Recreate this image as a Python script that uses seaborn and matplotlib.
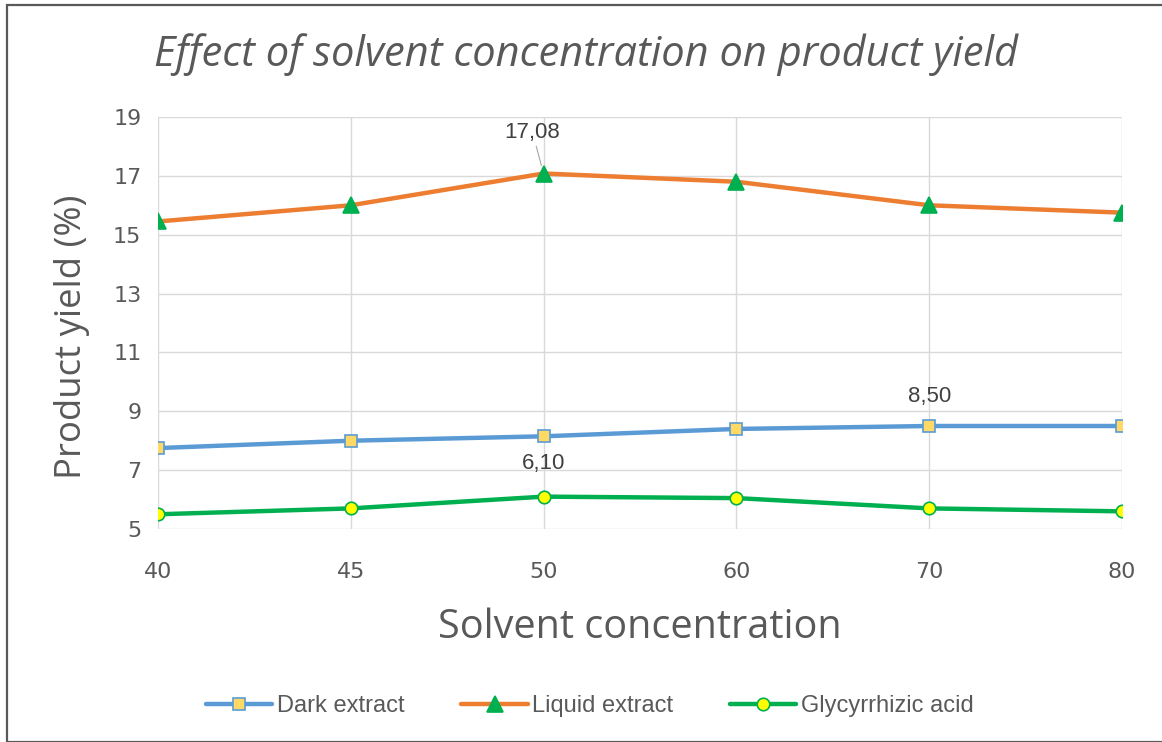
import matplotlib
matplotlib.use("Agg")
import matplotlib.pyplot as plt
import seaborn as sns
import pandas as pd
from matplotlib.patches import Rectangle

# Data
concentrations = ["40", "45", "50", "60", "70", "80"]
dark_extract = [7.75, 8.0, 8.15, 8.4, 8.50, 8.5]
liquid_extract = [15.45, 16.0, 17.08, 16.8, 16.0, 15.75]
glycyrrhizic_acid = [5.5, 5.7, 6.10, 6.05, 5.7, 5.6]
y_ticks = [5, 7, 9, 11, 13, 15, 17, 19]

series_names = ["Dark extract", "Liquid extract", "Glycyrrhizic acid"]
series_values = [dark_extract, liquid_extract, glycyrrhizic_acid]

sns.set_theme(style="white")
plt.rcParams["font.family"] = ["Open Sans", "DejaVu Sans"]

styles = {
    "Dark extract": dict(color="#5B9BD5", marker="s", mfc="#FFD966", mec="#5B9BD5", ms=9),
    "Liquid extract": dict(color="#ED7D31", marker="^", mfc="#00B050", mec="#00B050", ms=11),
    "Glycyrrhizic acid": dict(color="#00B050", marker="o", mfc="#FFFF00", mec="#00B050", ms=9),
}

rows = []
for name, vals in zip(series_names, series_values):
    for c, v in zip(concentrations, vals):
        rows.append({"conc": c, "yield": v, "series": name})
df = pd.DataFrame(rows)

fig = plt.figure(figsize=(11.62, 7.42), dpi=100)
ax = fig.add_axes([158 / 1162, 1 - 529 / 742, (1122 - 158) / 1162, (529 - 117) / 742])

for name in series_names:
    st = styles[name]
    sub = df[df["series"] == name]
    sns.lineplot(data=sub, x="conc", y="yield", ax=ax, color=st["color"], lw=3.2,
                 marker=st["marker"], markersize=st["ms"], markerfacecolor=st["mfc"],
                 markeredgecolor=st["mec"], markeredgewidth=1.2, label=name,
                 sort=False, zorder=3)

ax.set_xlim(0, len(concentrations) - 1)
ax.set_ylim(5, 19)
ax.set_yticks(y_ticks)
ax.grid(True, color="#D9D9D9", lw=1.0)
for s in ax.spines.values():
    s.set_visible(False)
ax.tick_params(axis="x", pad=24, labelsize=16, colors="#595959", length=0)
ax.tick_params(axis="y", pad=12, labelsize=16, colors="#595959", length=0)
for lab in ax.get_xticklabels() + ax.get_yticklabels():
    lab.set_fontfamily(["DejaVu Sans"])

ax.set_xlabel("Solvent concentration", fontsize=28.5, color="#595959", labelpad=18)
ax.set_ylabel("Product yield (%)", fontsize=26.3, color="#595959")
ax.yaxis.set_label_coords(-0.071, 0.466)
fig.text(586 / 1162, 1 - 55 / 742, "Effect of solvent concentration on product yield",
         ha="center", va="center", fontsize=30, style="italic", color="#595959")

def fmt(v):
    return f"{v:.2f}".replace(".", ",")

label_font = ["Liberation Sans Narrow", "Liberation Sans"]

# Data labels
i50 = concentrations.index("50")
ax.annotate(fmt(liquid_extract[i50]), xy=(i50, liquid_extract[i50]), xytext=(-8, 22),
            textcoords="offset points", ha="center", va="bottom", fontsize=16,
            color="#404040", fontfamily=label_font,
            arrowprops=dict(arrowstyle="-", color="#A6A6A6", lw=0.8, shrinkA=0, shrinkB=6))
i70 = concentrations.index("70")
ax.annotate(fmt(dark_extract[i70]), xy=(i70, dark_extract[i70]), xytext=(0, 14),
            textcoords="offset points", ha="center", va="bottom", fontsize=16,
            color="#404040", fontfamily=label_font)
ax.annotate(fmt(glycyrrhizic_acid[i50]), xy=(i50, glycyrrhizic_acid[i50]), xytext=(0, 16),
            textcoords="offset points", ha="center", va="bottom", fontsize=16,
            color="#404040", fontfamily=label_font)

ax.get_legend().remove()
handles, labels = ax.get_legend_handles_labels()
fig.legend(handles, labels, loc="center", bbox_to_anchor=(590 / 1162, 1 - 706 / 742),
           ncol=3, frameon=False, handlelength=2.8, columnspacing=2.4,
           handletextpad=0.2, labelcolor="#595959",
           prop={"family": label_font, "size": 17})

# Chart frame
fig.patches.append(Rectangle((7 / 1162, 0), 1.2, 1 - 5 / 742, transform=fig.transFigure,
                             fill=False, ec="#595959", lw=1.6))

fig.savefig("out.png", dpi=100)
